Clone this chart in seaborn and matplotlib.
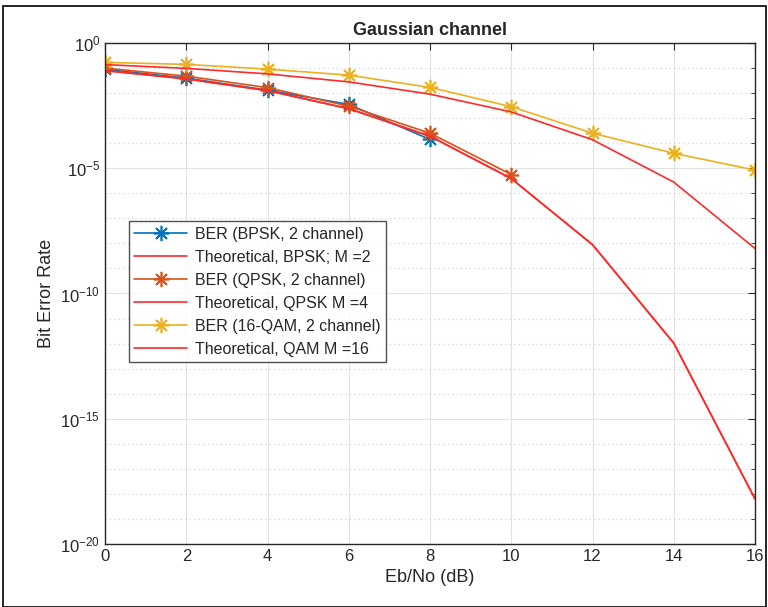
import numpy as np
import pandas as pd
import seaborn as sns
import matplotlib.pyplot as plt
from matplotlib.ticker import FixedLocator, LogFormatterSciNotation, NullFormatter
from matplotlib.patches import Rectangle

# Eb/No axis (dB)
ebno = [0, 2, 4, 6, 8, 10, 12, 14, 16]

# log10 of BER values
ber_bpsk = [-1.05, -1.40, -1.88, -2.45, -3.85]            # simulated, 0..8 dB
theo_bpsk = [-1.10, -1.43, -1.90, -2.62, -3.72, -5.41, -8.05, -11.98, -18.2]
ber_qpsk = [-1.00, -1.32, -1.78, -2.52, -3.60, -5.25]      # simulated, 0..10 dB
theo_qpsk = [-1.10, -1.43, -1.90, -2.62, -3.72, -5.41, -8.05, -11.98, -18.2]
ber_qam = [-0.77, -0.85, -1.04, -1.28, -1.77, -2.54, -3.60, -4.40, -5.07]
theo_qam = [-0.86, -1.01, -1.23, -1.55, -2.04, -2.75, -3.86, -5.55, -8.2]

asterisk = (8, 2, 0)
series = [
    ("BER (BPSK, 2 channel)", ebno[:5], ber_bpsk, "#0072BD", asterisk),
    ("Theoretical, BPSK; M =2", ebno, theo_bpsk, "#FF2A2A", None),
    ("BER (QPSK, 2 channel)", ebno[:6], ber_qpsk, "#D95319", asterisk),
    ("Theoretical, QPSK M =4", ebno, theo_qpsk, "#FF2A2A", None),
    ("BER (16-QAM, 2 channel)", ebno, ber_qam, "#EDB120", asterisk),
    ("Theoretical, QAM M =16", ebno, theo_qam, "#FF2A2A", None),
]

sns.set_style("white")
plt.rcParams['font.family'] = ['Liberation Sans', 'DejaVu Sans']
plt.rcParams['mathtext.fontset'] = 'custom'
plt.rcParams['mathtext.rm'] = 'Liberation Sans'

fig = plt.figure(figsize=(7.68, 6.07), dpi=100)
ax = fig.add_axes([0.137, 0.104, 0.846, 0.825])

for name, x, y, col, mk in series:
    df = pd.DataFrame({"x": x, "y": 10.0 ** np.array(y)})
    sns.lineplot(data=df, x="x", y="y", ax=ax, color=col, marker=mk,
                 markersize=11, markeredgecolor=col, markeredgewidth=1.2,
                 linewidth=1.2, label=name, sort=False)

ax.set_yscale("log")
ax.set_ylim(1e-20, 1)
ax.set_xlim(0, 16)
ax.set_xticks(range(0, 17, 2))
ax.yaxis.set_major_locator(FixedLocator([1e-20, 1e-15, 1e-10, 1e-5, 1]))
ax.yaxis.set_major_formatter(LogFormatterSciNotation())
minor = [10.0 ** k for k in range(-20, 1) if k % 5 != 0]
ax.yaxis.set_minor_locator(FixedLocator(minor))
ax.yaxis.set_minor_formatter(NullFormatter())

ax.grid(True, which="major", color="#e3e3e3", linewidth=0.8)
ax.grid(True, which="minor", axis="y", color="#d0d0d0", linestyle=(0, (1, 3)), linewidth=0.8)
ax.set_axisbelow(True)

for s in ax.spines.values():
    s.set_color("#262626")
    s.set_linewidth(1.0)
ax.tick_params(which="both", direction="in", top=True, right=True,
               labelsize=12, colors="#262626", labelcolor="#262626")
ax.tick_params(which="major", length=5)
ax.tick_params(which="minor", length=3)

ax.set_title("Gaussian channel", fontsize=13, fontweight="bold", pad=6)
ax.set_xlabel("Eb/No (dB)", fontsize=13, color="#262626")
ax.set_ylabel("Bit Error Rate", fontsize=13, color="#262626")

leg = ax.legend(loc="upper left", bbox_to_anchor=(0.024, 0.66), fontsize=11.5,
                frameon=True, fancybox=False, edgecolor="#262626",
                handlelength=3.3, borderpad=0.35, labelspacing=0.5,
                handletextpad=0.5)
leg.get_frame().set_linewidth(1.0)

fig.patches.append(Rectangle((0.004, 0.0), 0.994, 0.99, transform=fig.transFigure,
                             fill=False, edgecolor="black", linewidth=1.2))

fig.savefig("out.png", dpi=100)
